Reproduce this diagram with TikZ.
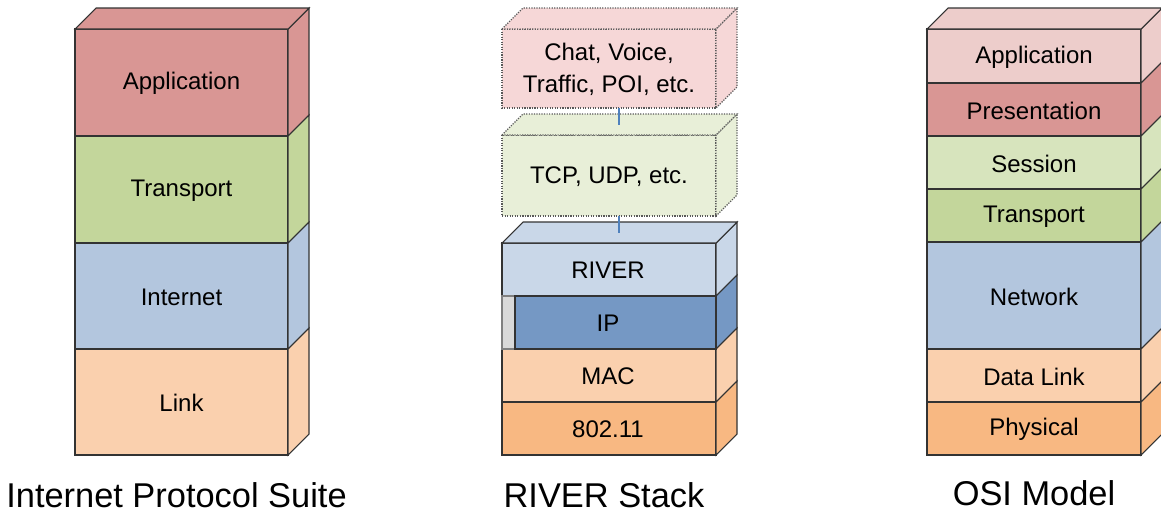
\documentclass[tikz,border=0pt]{standalone}
\usepackage{fontspec}
\setmainfont{Liberation Sans}
\definecolor{appred}{HTML}{D99694}
\definecolor{trgreen}{HTML}{C3D69B}
\definecolor{sesgreen}{HTML}{D7E4BD}
\definecolor{inblue}{HTML}{B3C6DE}
\definecolor{riverblue}{HTML}{C9D7E8}
\definecolor{ipblue}{HTML}{7598C4}
\definecolor{linkpeach}{HTML}{FAD0AE}
\definecolor{physorange}{HTML}{F8B882}
\definecolor{osipink}{HTML}{EDCDCB}
\definecolor{stripgray}{HTML}{D9D9D9}
\definecolor{ghostpink}{HTML}{F6D7D7}
\definecolor{ghostgreen}{HTML}{E8EFD8}
\definecolor{wireblue}{HTML}{4F81BD}
\tikzset{
  layer/.style={draw=black!80, line width=0.8pt},
  ghost/.style={draw=black!65, densely dotted, line width=0.9pt},
  lbl/.style={font=\fontsize{18}{23.5}\selectfont, align=center},
  stacktitle/.style={font=\fontsize{25.8}{30}\selectfont, anchor=base},
  wire/.style={draw=wireblue, line width=0.8pt},
}
\begin{document}
\begin{tikzpicture}[x=0.75pt,y=-0.75pt]
\useasboundingbox (0,0) rectangle (1161,515);

\foreach \ya/\yb/\col/\txt [count=\i] in {29/136/appred/Application, 136/243/trgreen/Transport,
    243/349/inblue/Internet, 349/455/linkpeach/Link}{
  \draw[layer, fill=\col] (75,\ya) rectangle (288,\yb);
  \draw[layer, fill=\col] (288,\ya) -- (309,{\ya-21}) -- (309,{\yb-21}) -- (288,\yb) -- cycle;
  \node[lbl] (ips\i) at (181.5,{(\ya+\yb)/2+1}) {\txt};
}
\draw[layer, fill=appred] (75,29) -- (96,8) -- (309,8) -- (288,29) -- cycle;

\draw[ghost, fill=ghostpink] (502,29) rectangle (716,108);
\draw[ghost, fill=ghostpink] (716,29) -- (737,8) -- (737,87) -- (716,108) -- cycle;
\draw[ghost, fill=ghostpink] (502,29) -- (523,8) -- (737,8) -- (716,29) -- cycle;
\node[lbl] (chat) at (609,69.5) {Chat, Voice,\\Traffic, POI, etc.};

\draw[ghost, fill=ghostgreen] (502,135) rectangle (716,216);
\draw[ghost, fill=ghostgreen] (716,135) -- (737,114) -- (737,195) -- (716,216) -- cycle;
\draw[ghost, fill=ghostgreen] (502,135) -- (523,114) -- (737,114) -- (716,135) -- cycle;
\node[lbl] (tcp) at (609,176.5) {TCP, UDP, etc.};

\foreach \ya/\yb/\col/\txt [count=\i] in {243/296/riverblue/RIVER, 296/349/ipblue/IP,
    349/402/linkpeach/MAC, 402/455/physorange/802.11}{
  \draw[layer, fill=\col] (502,\ya) rectangle (716,\yb);
  \draw[layer, fill=\col] (716,\ya) -- (737,{\ya-21}) -- (737,{\yb-21}) -- (716,\yb) -- cycle;
}
\draw[layer, fill=riverblue] (502,243) -- (523,222) -- (737,222) -- (716,243) -- cycle;
\draw[draw=black!50, line width=0.8pt, fill=stripgray] (502,296) rectangle (515,349);
\draw[layer, fill=ipblue] (515,296) rectangle (716,349);
\foreach \ya/\yb/\txt [count=\i] in {243/296/RIVER, 296/349/IP, 349/402/MAC, 402/455/802.11}
  \node[lbl] (riv\i) at (608,{(\ya+\yb)/2+1}) {\txt};

\coordinate (chatfoot) at (619,108);
\coordinate (tcpface) at (619,125);
\coordinate (tcpfoot) at (619,216);
\coordinate (riverface) at (619,233);
\draw[wire] (chatfoot) -- (tcpface);
\draw[wire] (tcpfoot) -- (riverface);

\foreach \ya/\yb/\col/\txt [count=\i] in {29/83/osipink/Application, 83/136/appred/Presentation,
    136/189/sesgreen/Session, 189/242/trgreen/Transport, 242/349/inblue/Network,
    349/402/linkpeach/Data Link, 402/455/physorange/Physical}{
  \draw[layer, fill=\col] (927,\ya) rectangle (1141,\yb);
  \draw[layer, fill=\col] (1141,\ya) -- (1162,{\ya-21}) -- (1162,{\yb-21}) -- (1141,\yb) -- cycle;
  \node[lbl] (osi\i) at (1034,{(\ya+\yb)/2+1}) {\txt};
}
\draw[layer, fill=osipink] (927,29) -- (948,8) -- (1162,8) -- (1141,29) -- cycle;

\node[stacktitle] (ipstitle) at (176.5,507) {Internet Protocol Suite};
\node[stacktitle] (rivtitle) at (604,507) {RIVER Stack};
\node[stacktitle] (osititle) at (1034,505) {OSI Model};

\end{tikzpicture}
\end{document}
